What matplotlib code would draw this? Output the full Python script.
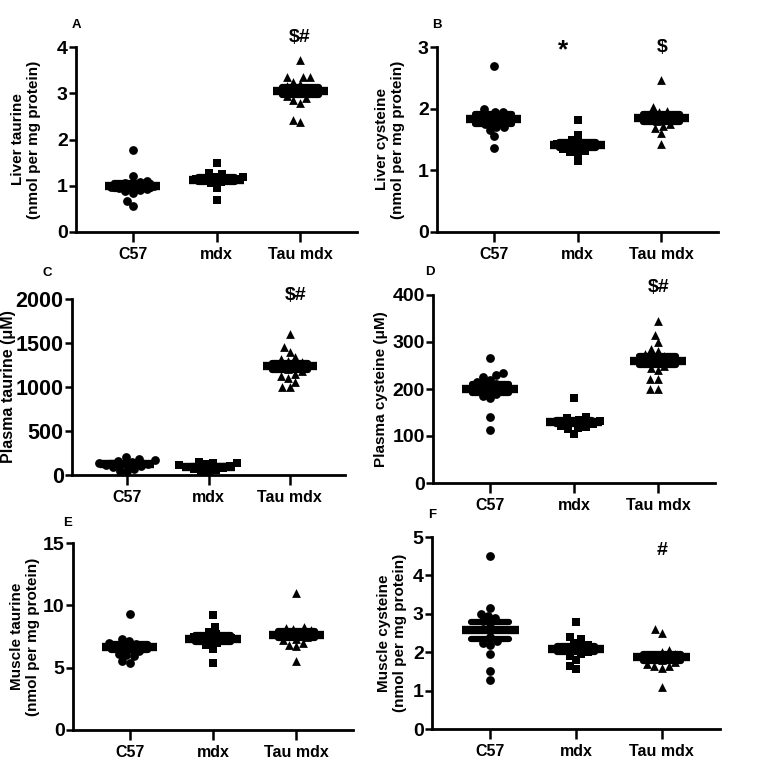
import numpy as np
import matplotlib

matplotlib.use("Agg")

import matplotlib.pyplot as plt

plt.rcParams["font.family"] = ["Liberation Sans", "DejaVu Sans"]
plt.rcParams["font.weight"] = "bold"

groups = ["C57", "mdx", "Tau mdx"]
markers = ["o", "s", "^"]

# values (one list per group)
liver_taurine = [
    [1.78, 1.22, 1.1, 1.08, 1.05, 1.02, 1.0, 0.98, 0.95, 0.92, 0.9, 0.88, 0.85, 0.67, 0.57],
    [1.5, 1.27, 1.25, 1.2, 1.18, 1.15, 1.15, 1.12, 1.1, 1.08, 1.05, 0.95, 0.7],
    [3.72, 3.35, 3.35, 3.35, 3.25, 3.2, 3.15, 3.1, 3.05, 3.0, 2.95, 2.9, 2.85, 2.8, 2.42, 2.38],
]
liver_cysteine = [
    [2.7, 2.0, 1.95, 1.95, 1.9, 1.85, 1.8, 1.8, 1.75, 1.7, 1.7, 1.65, 1.55, 1.37],
    [1.82, 1.57, 1.5, 1.45, 1.42, 1.4, 1.38, 1.35, 1.32, 1.3, 1.28, 1.15],
    [2.47, 2.02, 1.97, 1.95, 1.9, 1.87, 1.85, 1.82, 1.8, 1.75, 1.72, 1.68, 1.6, 1.42],
]
plasma_taurine = [
    [210, 180, 170, 160, 150, 140, 130, 120, 110, 100, 90, 70, 50, 40],
    [150, 140, 135, 120, 110, 100, 90, 80, 70, 60, 50, 40],
    [1600, 1450, 1400, 1340, 1320, 1300, 1280, 1250, 1220, 1200, 1180, 1150,
     1120, 1100, 1060, 1000, 1000],
]
plasma_cysteine = [
    [265, 235, 230, 225, 220, 215, 210, 205, 200, 195, 190, 185, 180, 140, 113],
    [180, 140, 138, 135, 132, 130, 128, 125, 122, 120, 118, 115, 105],
    [345, 315, 300, 285, 280, 275, 270, 265, 260, 255, 250, 245, 240, 222, 222, 200, 200],
]
muscle_taurine = [
    [9.3, 7.3, 7.1, 7.0, 6.9, 6.8, 6.7, 6.6, 6.5, 6.3, 6.1, 6.0, 5.9, 5.5, 5.4],
    [9.2, 8.3, 7.9, 7.7, 7.5, 7.4, 7.3, 7.2, 7.1, 7.0, 6.8, 6.5, 5.4],
    [11.0, 8.3, 8.2, 8.1, 8.0, 7.8, 7.7, 7.6, 7.5, 7.3, 7.2, 7.0, 6.8, 6.7, 5.5],
]
muscle_cysteine = [
    [4.5, 3.15, 3.0, 2.95, 2.9, 2.8, 2.75, 2.4, 2.3, 2.25, 2.2, 1.95, 1.5, 1.27],
    [2.78, 2.4, 2.35, 2.25, 2.2, 2.15, 2.1, 2.05, 2.0, 1.95, 1.9, 1.8, 1.65, 1.55],
    [2.6, 2.5, 2.05, 2.0, 1.95, 1.9, 1.85, 1.8, 1.75, 1.7, 1.65, 1.65, 1.6, 1.1],
]

W, H = 761, 763


def swarm(values, xscale, yscale, diam):
    # simple beeswarm: offsets in pixels, nearest free spot to the centre
    out = np.zeros(len(values))
    placed = []
    for i in np.argsort(values):
        y = values[i] * yscale
        blocks = []
        for px, py in placed:
            dy = abs(py - y)
            if dy < diam:
                dx = np.sqrt(diam ** 2 - dy ** 2)
                blocks.append((px - dx, px + dx))
        cands = [0.0] + [b for blk in blocks for b in blk]
        cands.sort(key=abs)
        for c in cands:
            if all(not (lo + 1e-6 < c < hi - 1e-6) for lo, hi in blocks):
                out[i] = c
                break
        placed.append((out[i], y))
    return out / xscale


def panel(rect, letter, data, ylabel, top, step, label_x, letter_xy, notes,
          ytick_size=14, ylabel_size=11):
    ax = fig.add_axes([rect[0] / W, 1 - rect[3] / H,
                       (rect[2] - rect[0]) / W, (rect[3] - rect[1]) / H])
    xlim = (-0.68, 2.68)
    ax.set_xlim(*xlim)
    ax.set_ylim(0, top)
    xscale = (rect[2] - rect[0]) / (xlim[1] - xlim[0])
    yscale = (rect[3] - rect[1]) / top
    for i, vals in enumerate(data):
        vals = np.array(vals, dtype=float)
        off = swarm(vals, xscale, yscale, 7.5)
        ax.scatter(i + off, vals, marker=markers[i], s=40, color="black",
                   linewidths=0, clip_on=False, zorder=3)
        m = vals.mean()
        sem = vals.std(ddof=1) / np.sqrt(len(vals))
        ax.hlines(m, i - 0.33, i + 0.33, color="black", lw=6, zorder=4)
        ax.vlines(i, m - sem, m + sem, color="black", lw=3, zorder=4)
        ax.hlines([m - sem, m + sem], i - 0.22, i + 0.22, color="black",
                  lw=4.5, capstyle="round", zorder=4)
    for sp in ["top", "right"]:
        ax.spines[sp].set_visible(False)
    for sp in ["left", "bottom"]:
        ax.spines[sp].set_linewidth(2)
    ax.set_xticks(range(3))
    ax.set_xticklabels(groups, fontsize=11.5, fontweight="bold")
    ax.set_yticks(np.arange(0, top + step / 2, step))
    ax.tick_params(axis="y", width=1.8, length=5, labelsize=ytick_size, pad=1)
    ax.tick_params(axis="x", width=1.8, length=7, pad=4)
    ax.set_ylabel(ylabel, fontsize=ylabel_size, fontweight="bold", linespacing=1.15)
    ax.yaxis.set_label_coords(label_x, 0.5)
    ax.text(letter_xy[0], letter_xy[1], letter, transform=ax.transAxes,
            fontsize=9.5, fontweight="bold", ha="center", va="center")
    for x, y, s, size in notes:
        ax.text(x, y, s, transform=ax.transAxes, fontsize=size,
                fontweight="bold", ha="center", va="center")
    return ax


fig = plt.figure(figsize=(W / 100, H / 100), dpi=100)

panel((76, 47, 357, 232), "A", liver_taurine,
      "Liver taurine\n(nmol per mg protein)", 4, 1, -0.125, (0.0, 1.12),
      [(0.797, 1.05, "$#", 14)])
panel((437, 47, 718, 232), "B", liver_cysteine,
      "Liver cysteine\n(nmol per mg protein)", 3, 1, -0.114, (0.0, 1.12),
      [(0.45, 0.98, "*", 19), (0.80, 1.0, "$", 14)])
panel((72, 299, 345, 475), "C", plasma_taurine,
      "Plasma taurine (\u03bcM)", 2000, 500, -0.205, (-0.09, 1.15),
      [(0.82, 1.02, "$#", 14)], ytick_size=15.5, ylabel_size=11.5)
panel((433, 295, 715, 483), "D", plasma_cysteine,
      "Plasma cysteine (\u03bcM)", 400, 100, -0.16, (-0.01, 1.12),
      [(0.80, 1.04, "$#", 14)])
panel((73, 543, 353, 730), "E", muscle_taurine,
      "Muscle taurine\n(nmol per mg protein)", 15, 5, -0.118, (-0.018, 1.107), [])
panel((432, 537, 720, 729), "F", muscle_cysteine,
      "Muscle cysteine\n(nmol per mg protein)", 5, 1, -0.087, (0.0, 1.115),
      [(0.80, 0.93, "#", 14)])

fig.savefig("out.png", dpi=100)
